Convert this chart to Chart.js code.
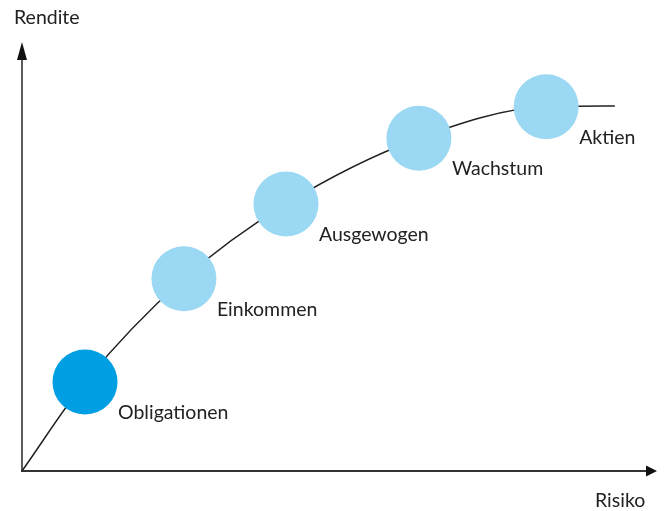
<!DOCTYPE html>
<html>
<head>
<meta charset="utf-8">
<title>Rendite / Risiko</title>
<script src="https://cdn.jsdelivr.net/npm/chart.js@4.4.1/dist/chart.umd.min.js"></script>
<style>
  body { margin: 0; background: #fff; }
  canvas { display: block; }
</style>
</head>
<body>
<canvas id="chart" width="665" height="511"></canvas>
<script>
// Portfolios entlang der Kurve
const labels = ["Obligationen", "Einkommen", "Ausgewogen", "Wachstum", "Aktien"];
const risiko = [1.0, 2.57, 4.19, 6.3, 8.32];
const rendite = [2.07, 4.47, 6.21, 7.74, 8.47];

// Stützpunkte der Kurve (Ursprung, Portfolios, Ende)
const kurveX = [0, 1.0, 2.57, 4.19, 6.3, 8.32, 9.41];
const kurveY = [0, 2.07, 4.47, 6.21, 7.74, 8.47, 8.49];

const farben = ["#009fe3", "#9ad8f3", "#9ad8f3", "#9ad8f3", "#9ad8f3"];
const FONT = "Lato, 'DejaVu Sans', sans-serif";

// Achsen mit Pfeilen + Beschriftungen
const achsenPlugin = {
  id: "achsen",
  beforeDatasetsDraw(chart) {
    const { ctx, chartArea } = chart;
    const x0 = chartArea.left;
    const y0 = chartArea.bottom;
    ctx.save();
    ctx.strokeStyle = "#333";
    ctx.fillStyle = "#111";
    // y-Achse
    ctx.lineWidth = 1.6;
    ctx.beginPath();
    ctx.moveTo(x0, y0 + 1);
    ctx.lineTo(x0, 56);
    ctx.stroke();
    ctx.beginPath();
    ctx.moveTo(x0, 42);
    ctx.lineTo(x0 - 5, 60);
    ctx.lineTo(x0 + 5, 60);
    ctx.closePath();
    ctx.fill();
    // x-Achse
    ctx.lineWidth = 2.2;
    ctx.beginPath();
    ctx.moveTo(x0 - 1, y0);
    ctx.lineTo(648, y0);
    ctx.stroke();
    ctx.beginPath();
    ctx.moveTo(657, y0);
    ctx.lineTo(646, y0 - 5.5);
    ctx.lineTo(646, y0 + 5.5);
    ctx.closePath();
    ctx.fill();

    ctx.font = "19.5px " + FONT;
    ctx.fillStyle = "#222";
    ctx.textBaseline = "alphabetic";
    ctx.fillText("Rendite", 14, 24);
    ctx.fillText("Risiko", 595, 507);
    ctx.restore();
  },
  afterDatasetsDraw(chart) {
    const { ctx } = chart;
    const meta = chart.getDatasetMeta(1);
    ctx.save();
    ctx.font = "19.5px " + FONT;
    ctx.fillStyle = "#222";
    ctx.textBaseline = "alphabetic";
    meta.data.forEach((pt, i) => {
      ctx.fillText(labels[i], pt.x + 33, pt.y + 37);
    });
    ctx.restore();
  },
};

new Chart(document.getElementById("chart"), {
  type: "scatter",
  data: {
    datasets: [
      {
        data: kurveX.map((x, i) => ({ x: x, y: kurveY[i] })),
        showLine: true,
        borderColor: "#222",
        borderWidth: 1.5,
        pointRadius: 0,
        cubicInterpolationMode: "monotone",
        clip: false,
        order: 2,
      },
      {
        data: risiko.map((x, i) => ({ x: x, y: rendite[i] })),
        backgroundColor: farben,
        borderWidth: 0,
        pointRadius: 32.5,
        pointHoverRadius: 32.5,
        clip: false,
        order: 1,
      },
    ],
  },
  options: {
    responsive: false,
    animation: false,
    layout: {
      autoPadding: false,
      padding: { left: 22, right: 13, top: 41, bottom: 40 },
    },
    scales: {
      x: { type: "linear", min: 0, max: 10, display: false },
      y: { type: "linear", min: 0, max: 10, display: false },
    },
    plugins: {
      legend: { display: false },
      tooltip: { enabled: false },
    },
  },
  plugins: [achsenPlugin],
});
</script>
</body>
</html>
